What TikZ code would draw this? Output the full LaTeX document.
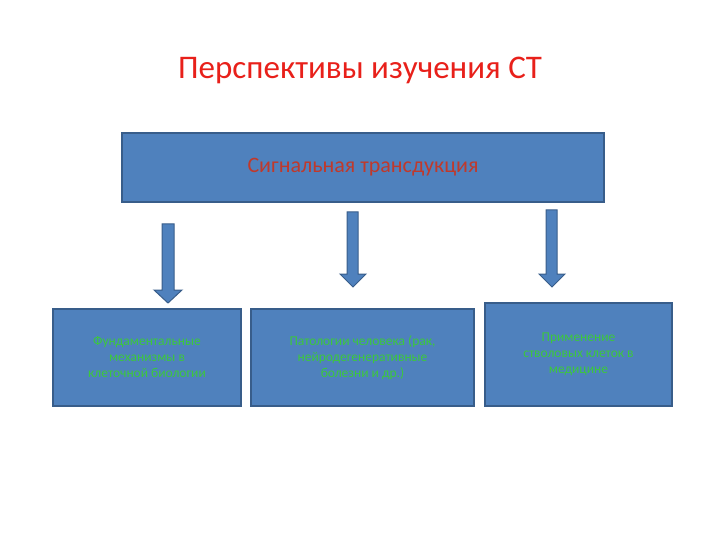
\documentclass[tikz,border=0pt]{standalone}
\usepackage{fontspec}
\setmainfont{Carlito}
\definecolor{bfill}{HTML}{4F81BD}
\definecolor{bdraw}{HTML}{385D8A}
\definecolor{ttl}{HTML}{E8201A}
\definecolor{toptxt}{HTML}{C0392B}
\definecolor{grn}{HTML}{3CC83C}
\begin{document}
\begin{tikzpicture}[x=1pt,y=-1pt,
  box/.style={draw=bdraw,line width=1.5pt,fill=bfill,inner sep=0pt,align=center},
  arr/.style={fill=bfill,draw=bdraw,line width=1pt}]
\useasboundingbox (0,0) rectangle (720,540);
\node[text=ttl,font=\fontsize{33}{38}\selectfont] (title) at (360,70) {Перспективы изучения СТ};
\node[box,minimum width=482pt,minimum height=69pt,text=toptxt,font=\fontsize{22}{26}\selectfont] (top) at (363,167.5) {Сигнальная трансдукция};
\node[box,minimum width=188pt,minimum height=97pt,text=grn,font=\fontsize{13.5}{16}\selectfont] (b1) at (147,357.5) {Фундаментальные\\механизмы в\\клеточной биологии};
\node[box,minimum width=223pt,minimum height=97pt,text=grn,font=\fontsize{13.5}{16}\selectfont] (b2) at (362.5,357.5) {Патологии человека (рак,\\нейродегенеративные\\болезни и др.)};
\node[box,minimum width=187pt,minimum height=103pt,text=grn,font=\fontsize{13.5}{16}\selectfont] (b3) at (578.5,354.5) {Применение\\стволовых клеток в\\медицине};
\draw[arr] (162,224) -- (174,224) -- (174,290) -- (182,290) -- (168,303) -- (154,290) -- (162,290) -- cycle;
\draw[arr] (347,212) -- (358,212) -- (358,274) -- (366,274) -- (353,287) -- (340,274) -- (347,274) -- cycle;
\draw[arr] (546,210) -- (557,210) -- (557,274) -- (565,274) -- (552,287) -- (539,274) -- (546,274) -- cycle;
\end{tikzpicture}
\end{document}
